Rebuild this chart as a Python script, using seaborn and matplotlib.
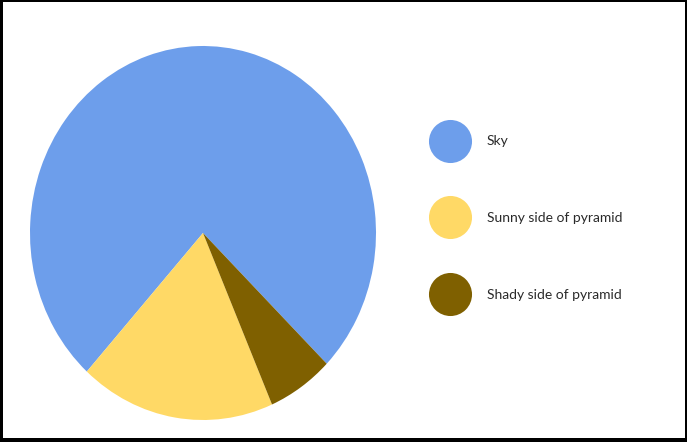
import matplotlib
matplotlib.use("Agg")
import matplotlib.pyplot as plt
from matplotlib.lines import Line2D
from matplotlib.patches import Rectangle
import seaborn as sns

labels = ["Sky", "Sunny side of pyramid", "Shady side of pyramid"]
values = [75.6, 18.25, 6.15]
colors = ["#6d9eeb", "#ffd966", "#7f6000"]

sns.set_theme(style="white")
plt.rcParams["font.family"] = ["Lato", "DejaVu Sans"]
palette = sns.color_palette(colors)

W, H = 687, 442
fig = plt.figure(figsize=(W / 100, H / 100), dpi=100)
fig.patch.set_facecolor("white")

# pie axes (pixel placement)
cx, cy, rx, ry = 203, 233, 173, 187
ax = fig.add_axes([(cx - rx) / W, (H - cy - ry) / H, 2 * rx / W, 2 * ry / H])
ax.pie(values, colors=palette, startangle=315.65, counterclock=True,
       wedgeprops=dict(linewidth=0))
ax.set_aspect("auto")
ax.set_xlim(-1, 1)
ax.set_ylim(-1, 1)
ax.axis("off")

handles = [Line2D([], [], marker="o", linestyle="", markersize=31,
                  markerfacecolor=c, markeredgewidth=0) for c in palette]
leg = fig.legend(handles, labels, loc="center left",
                 bbox_to_anchor=(436 / W, (H - 218) / H),
                 frameon=False, fontsize=10, labelspacing=4.65,
                 handlelength=2.0, handletextpad=1.66, borderpad=0,
                 borderaxespad=0)
for t in leg.get_texts():
    t.set_color("#2a2a2a")

# black frame around the picture
for (x0, y0, w, h) in [(0, 0, 3, H), (W - 2, 0, 2, H), (0, H - 2, W, 2), (0, 0, W, 4)]:
    fig.patches.append(Rectangle((x0 / W, y0 / H), w / W, h / H,
                                 transform=fig.transFigure, facecolor="black",
                                 edgecolor="none", zorder=10))

fig.savefig("out.png", dpi=100)
